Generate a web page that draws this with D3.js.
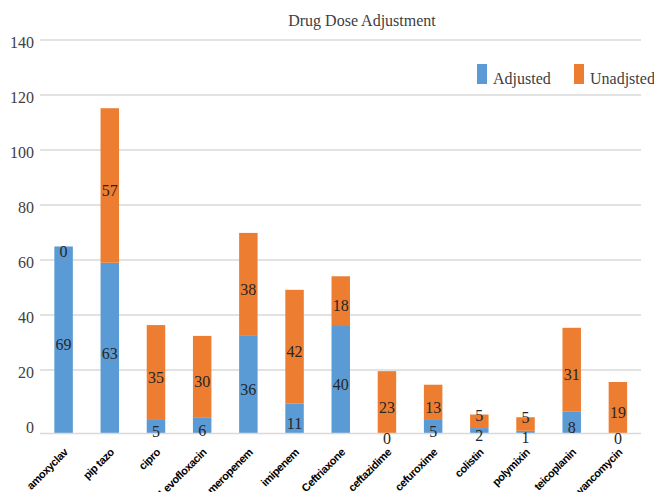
<!DOCTYPE html>
<html>
<head>
<meta charset="utf-8">
<script src="https://cdn.jsdelivr.net/npm/d3@7/dist/d3.min.js"></script>
<style>
  html, body { margin: 0; padding: 0; background: #fff; }
  svg { display: block; }
  .serif { font-family: "Liberation Serif", "Times New Roman", Times, "DejaVu Serif", serif; }
  .cat { font-family: "Liberation Sans", Arial, sans-serif; font-weight: bold; }
</style>
</head>
<body>
<svg id="chart" width="654" height="492"></svg>
<script>
// Drug dose adjustment counts per antibiotic
const drugs = ["amoxyclav", "pip tazo", "cipro", "Levofloxacin", "meropenem", "imipenem",
  "Ceftriaxone", "ceftazidime", "cefuroxime", "colistin", "polymixin", "teicoplanin", "vancomycin"];
const adjusted   = [69, 63, 5, 6, 36, 11, 40, 0, 5, 2, 1, 8, 0];
const unadjusted = [0, 57, 35, 30, 38, 42, 18, 23, 13, 5, 5, 31, 19];
const seriesNames = ["Adjusted", "Unadjsted"];
const seriesColors = ["#5b9bd5", "#ed7d31"];
const yTicks = [0, 20, 40, 60, 80, 100, 120, 140];

const svg = d3.select("#chart");

const x = d3.scaleBand().domain(drugs).range([40.5, 641]).paddingInner(0.6).paddingOuter(0.3);
// value axis (gridlines and tick labels)
const yAxis = d3.scaleLinear().domain([0, 140]).range([425, 40]);
// bar scale from the category axis baseline
const y = d3.scaleLinear().domain([0, 140]).range([433.5, 54]);

// gridlines
svg.append("g").selectAll("line").data(yTicks.filter(t => t > 0)).join("line")
  .attr("x1", 40).attr("x2", 641)
  .attr("y1", d => yAxis(d)).attr("y2", d => yAxis(d))
  .attr("stroke", "#d9d9d9").attr("stroke-width", 1.5);

// tick labels
svg.append("g").attr("class", "serif").selectAll("text").data(yTicks).join("text")
  .attr("x", 34).attr("y", d => yAxis(d) + 2)
  .attr("text-anchor", "end").attr("dominant-baseline", "central")
  .attr("font-size", 16).attr("fill", "#404040")
  .text(d => d);

// stacked data
const rows = drugs.map((d, i) => ({ drug: d, Adjusted: adjusted[i], Unadjsted: unadjusted[i] }));
const stacked = d3.stack().keys(seriesNames)(rows);

svg.append("g").selectAll("g").data(stacked).join("g")
  .attr("fill", (d, i) => seriesColors[i])
  .selectAll("rect").data(d => d).join("rect")
  .attr("x", d => x(d.data.drug))
  .attr("width", x.bandwidth())
  .attr("y", d => y(d[1]))
  .attr("height", d => y(d[0]) - y(d[1]));

// category axis line
svg.append("line")
  .attr("x1", 40).attr("x2", 641)
  .attr("y1", y(0)).attr("y2", y(0))
  .attr("stroke", "#d9d9d9").attr("stroke-width", 1.5);

// value labels
const labels = svg.append("g").attr("class", "serif")
  .attr("font-size", 16).attr("fill", "#262626")
  .attr("text-anchor", "middle").attr("dominant-baseline", "central");

drugs.forEach((d, i) => {
  const cx = x(d) + x.bandwidth() / 2;
  const a = stacked[0][i], u = stacked[1][i];
  const ay = (y(a[0]) + y(a[1])) / 2 + 5;
  let uy = (y(u[0]) + y(u[1])) / 2 + 5;
  uy = Math.min(uy, ay - 20);
  labels.append("text").attr("x", cx).attr("y", ay).text(adjusted[i]);
  labels.append("text").attr("x", cx).attr("y", uy).text(unadjusted[i]);
});

// category labels
svg.append("g").attr("class", "cat").selectAll("text").data(drugs).join("text")
  .attr("transform", d => `translate(${x(d) + x.bandwidth() / 2 + 5},${453}) rotate(-45)`)
  .attr("text-anchor", "end")
  .attr("font-size", 11).attr("letter-spacing", -0.4)
  .attr("fill", "#000")
  .text(d => d);

// title
svg.append("text").attr("class", "serif")
  .attr("x", 362).attr("y", 26).attr("text-anchor", "middle")
  .attr("font-size", 16).attr("fill", "#404040")
  .text("Drug Dose Adjustment");

// legend
const legendX = [477, 574];
const legend = svg.append("g").selectAll("g").data(seriesNames).join("g")
  .attr("transform", (d, i) => `translate(${legendX[i]},64)`);
legend.append("rect").attr("width", 10).attr("height", 20)
  .attr("fill", (d, i) => seriesColors[i]);
legend.append("text").attr("class", "serif").attr("x", 16).attr("y", 20)
  .attr("font-size", 16).attr("fill", "#404040")
  .text(d => d);
</script>
</body>
</html>
